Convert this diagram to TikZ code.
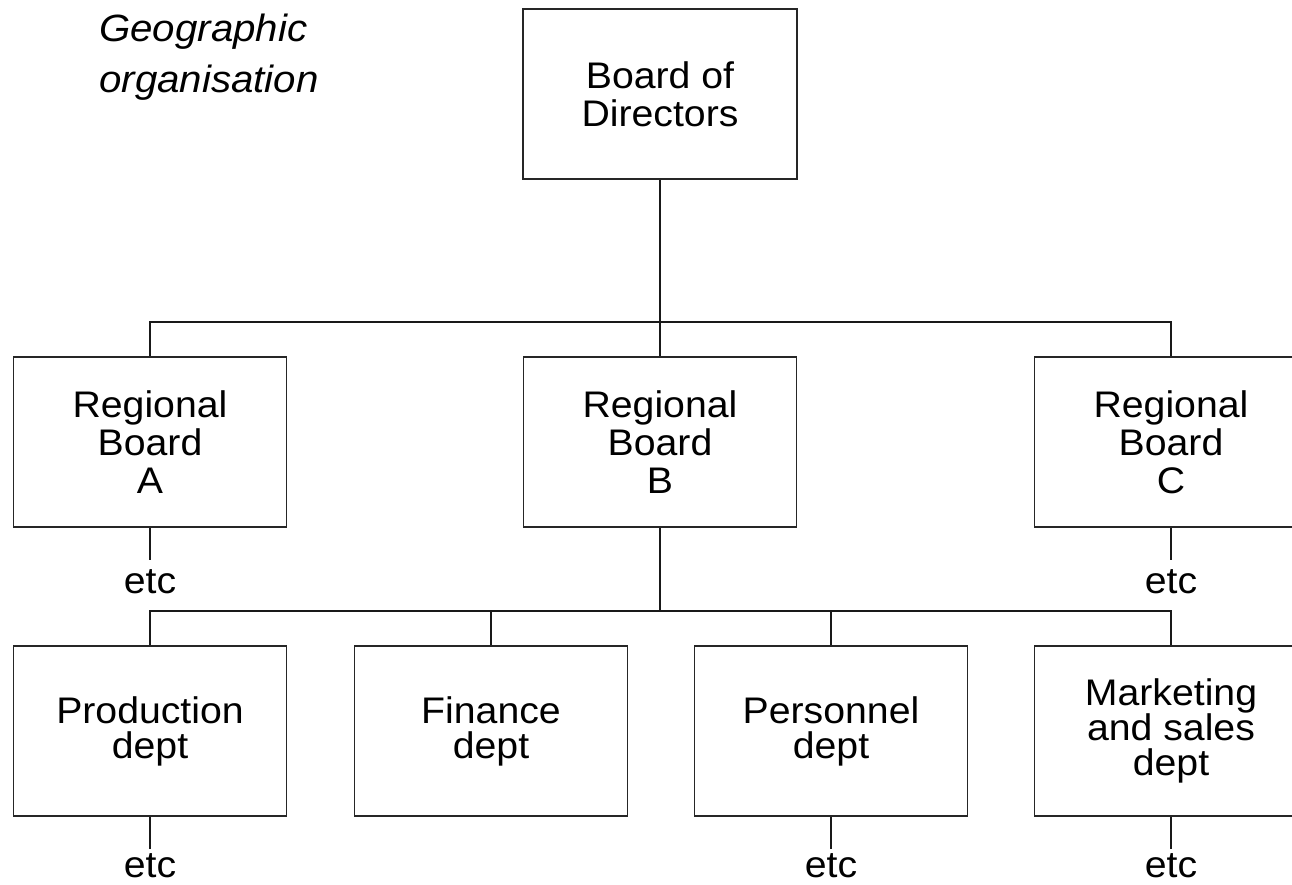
\documentclass[tikz,border=0pt]{standalone}
\usepackage{fontspec}
\setmainfont{Liberation Sans}[FakeStretch=1.06]
\begin{document}
\begin{tikzpicture}[x=1pt,y=1pt,
  box/.style={draw=black!85, line width=1.7pt, minimum width=273pt, minimum height=170pt,
    inner sep=0pt, align=center, font=\fontsize{37}{38}\selectfont},
  lowbox/.style={box, font=\fontsize{37}{35}\selectfont},
  conn/.style={line width=1.7pt, draw=black!90},
  etctext/.style={anchor=base, font=\fontsize{37}{38}\selectfont, inner sep=0pt}]
\useasboundingbox (0,0) rectangle (1292,-885);
\clip (0,0) rectangle (1292,-885);
\node[anchor=north west, align=left, inner sep=0pt, font=\itshape\fontsize{38}{51}\selectfont] (title) at (99,-14) {Geographic\\organisation};
\node[box, minimum width=274pt] (board) at (660,-94) {Board of\\Directors};
\node[box] (A) at (150,-442) {Regional\\Board\\A};
\node[box] (B) at (660,-442) {Regional\\Board\\B};
\node[box] (C) at (1171,-442) {Regional\\Board\\C};
\node[lowbox] (P) at (150,-731) {Production\\dept};
\node[lowbox] (F) at (491,-731) {Finance\\dept};
\node[lowbox] (R) at (831,-731) {Personnel\\dept};
\node[lowbox] (M) at (1171,-731) {Marketing\\and sales\\dept};
\coordinate (bus1) at (660,-322);
\coordinate (bus2) at (660,-611);
\draw[conn] (board.south) -- (B.north);
\draw[conn] (A.north) |- (bus1) -| (C.north);
\draw[conn] (B.south) -- (bus2);
\draw[conn] (P.north) |- (bus2) -| (M.north);
\draw[conn] (F.north) -- (F.north |- bus2);
\draw[conn] (R.north) -- (R.north |- bus2);
\coordinate (eA) at (150,-560);
\coordinate (eC) at (1171,-560);
\coordinate (eP) at (150,-849);
\coordinate (eR) at (831,-849);
\coordinate (eM) at (1171,-849);
\draw[conn] (A.south) -- (eA);
\draw[conn] (C.south) -- (eC);
\draw[conn] (P.south) -- (eP);
\draw[conn] (R.south) -- (eR);
\draw[conn] (M.south) -- (eM);
\node[etctext] (etcA) at (150,-593) {etc};
\node[etctext] (etcC) at (1171,-593) {etc};
\node[etctext] (etcP) at (150,-877) {etc};
\node[etctext] (etcR) at (831,-877) {etc};
\node[etctext] (etcM) at (1171,-877) {etc};
\end{tikzpicture}
\end{document}
